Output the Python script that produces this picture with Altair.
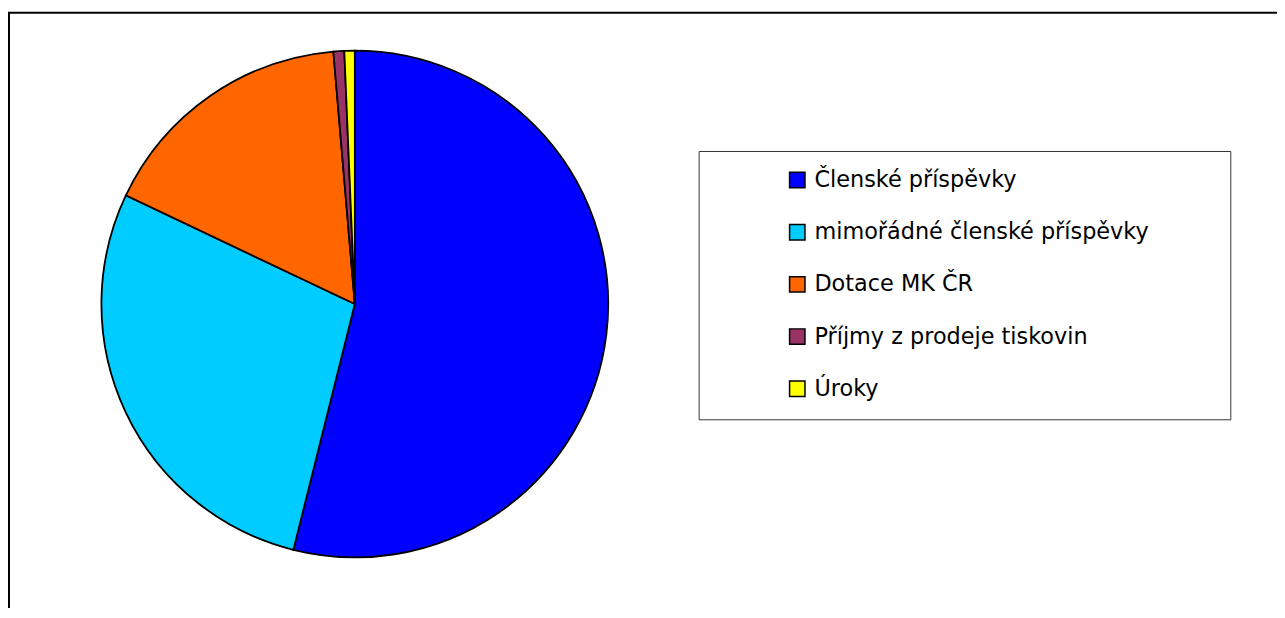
import altair as alt
import pandas as pd

categories = [
    "Členské příspěvky",
    "mimořádné členské příspěvky",
    "Dotace MK ČR",
    "Příjmy z prodeje tiskovin",
    "Úroky",
]
values = [53.9, 28.15, 16.6, 0.69, 0.66]
colors = ["#0000FF", "#00CCFF", "#FF6600", "#993366", "#FFFF00"]

df = pd.DataFrame({"category": categories, "value": values, "order": list(range(len(categories)))})
one = pd.DataFrame({"a": [0]})

pie = alt.Chart(df).mark_arc(outerRadius=255, stroke="black", strokeWidth=1.8).encode(
    x=alt.value(349),
    y=alt.value(296),
    theta=alt.Theta("value:Q", stack=True),
    order=alt.Order("order:Q"),
    color=alt.Color(
        "category:N",
        scale=alt.Scale(domain=categories, range=colors),
        sort=categories,
        legend=alt.Legend(
            title=None,
            orient="none",
            legendX=783,
            legendY=160,
            symbolType="square",
            symbolSize=240,
            symbolStrokeColor="black",
            symbolStrokeWidth=1.5,
            symbolOpacity=1,
            labelFont="DejaVu Sans",
            labelFontSize=22.5,
            labelColor="black",
            labelOffset=6,
            rowPadding=29.5,
            padding=0,
            labelLimit=600,
        ),
    ),
)

frame = alt.Chart(one).mark_rect(filled=False, stroke="black", strokeWidth=2).encode(
    x=alt.value(1), x2=alt.value(3000), y=alt.value(3), y2=alt.value(3000)
)

legend_box = alt.Chart(one).mark_rect(filled=False, stroke="#333333", strokeWidth=1).encode(
    x=alt.value(695.5), x2=alt.value(1230.5), y=alt.value(142.5), y2=alt.value(412.5)
)

chart = alt.layer(frame, legend_box, pie).properties(
    width=1277, height=600, autosize="none", padding=0, background="white"
).configure_view(stroke=None)

chart.save("out.html", embed_options={"renderer": "svg", "actions": False})
